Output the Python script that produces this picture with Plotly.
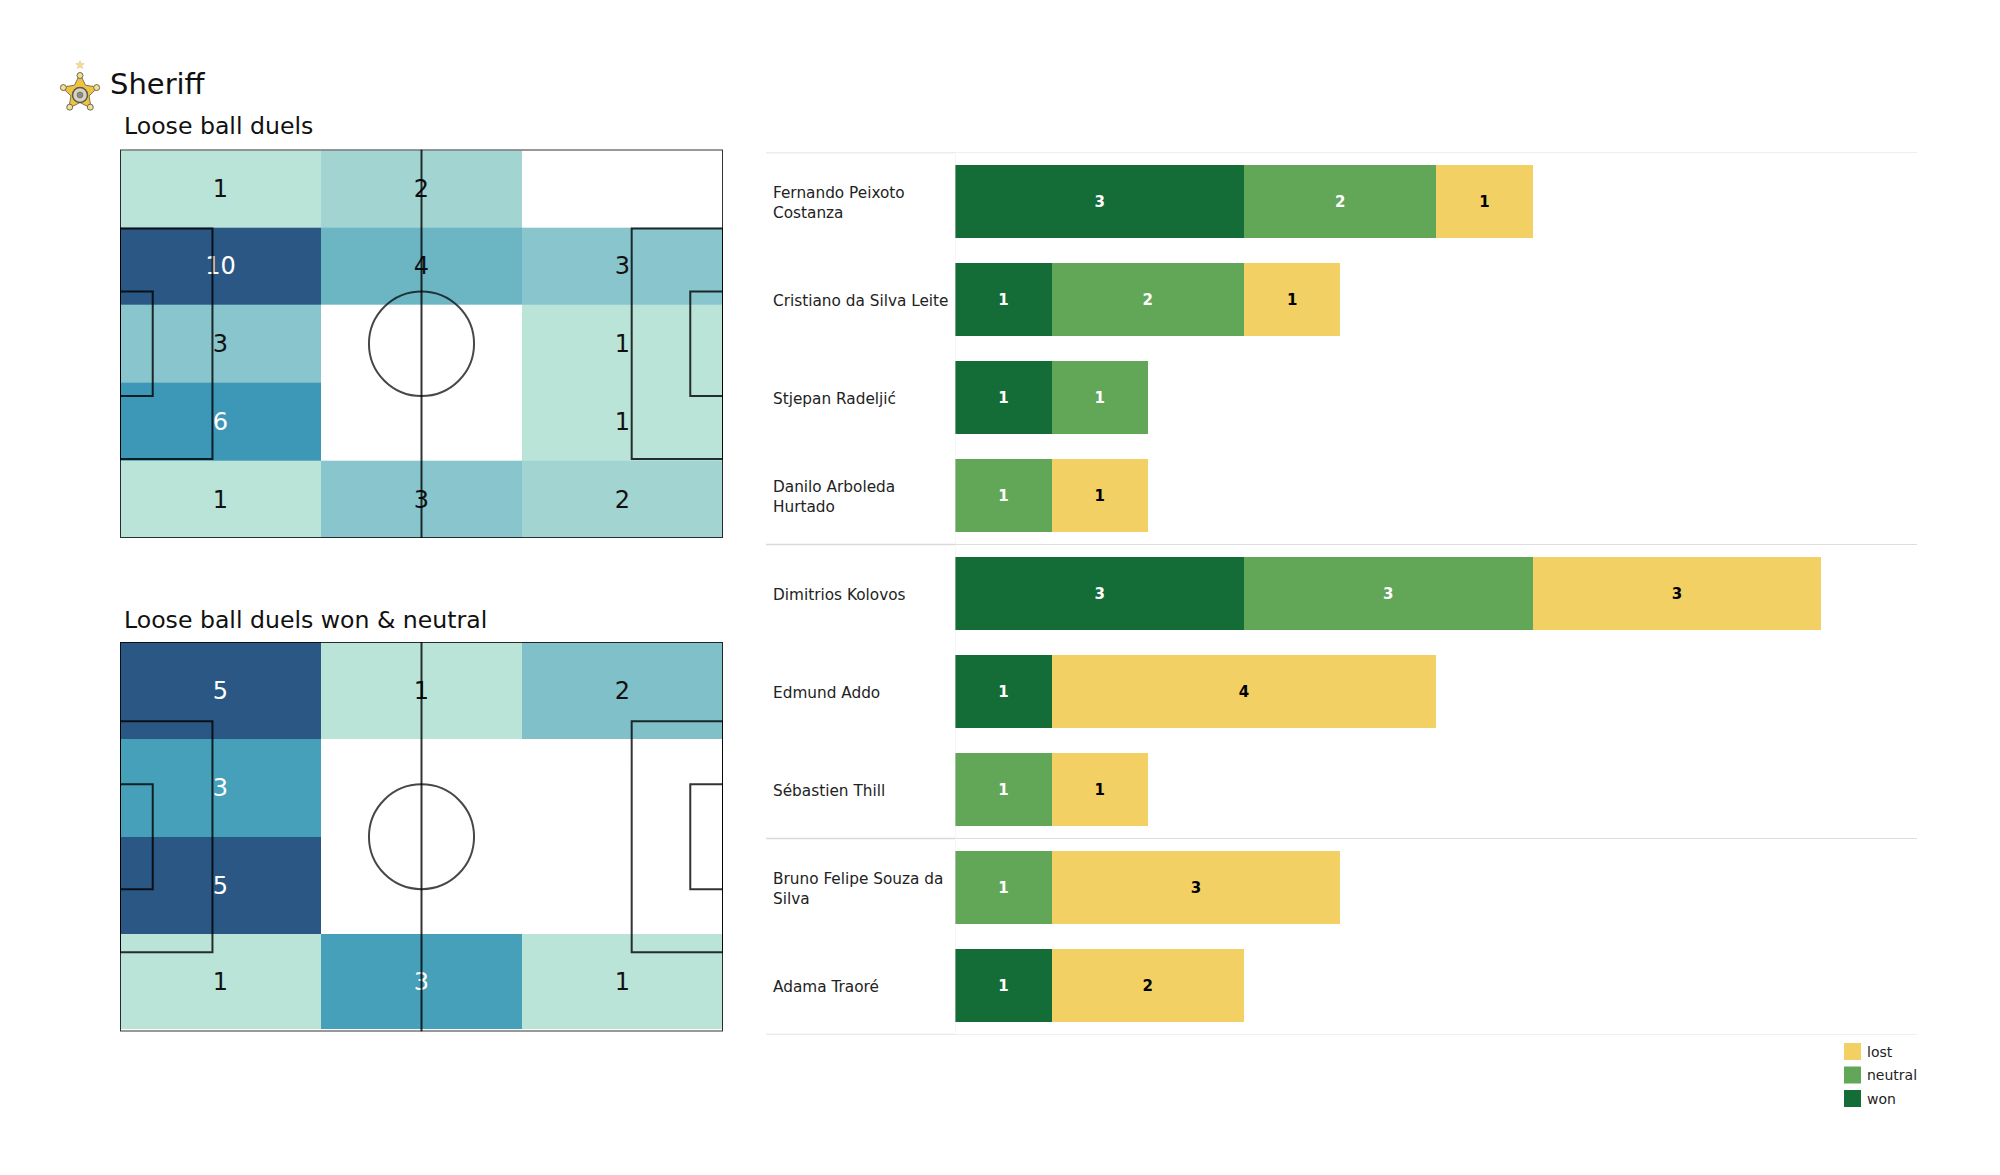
import math
import plotly.graph_objects as go

W, H = 2000, 1175

# ---- data ----
pitch_x_edges = [0, 35, 70, 105]
duels_rows = [[1, 2, 0], [10, 4, 3], [3, 0, 1], [6, 0, 1], [1, 3, 2]]
duels_y_edges = [0.2, 13.6, 27.2, 40.8, 54.4, 68]
won_neutral_rows = [[5, 1, 2], [3, 0, 0], [5, 0, 0], [1, 3, 1]]
won_neutral_y_edges = [0, 16.9, 34.0, 50.9, 67.5]

players = ["Fernando Peixoto<br>Costanza", "Cristiano da Silva Leite", "Stjepan Radeljić",
           "Danilo Arboleda<br>Hurtado", "Dimitrios Kolovos", "Edmund Addo", "Sébastien Thill",
           "Bruno Felipe Souza da<br>Silva", "Adama Traoré"]
won = [3, 1, 1, 0, 3, 1, 0, 0, 1]
neutral = [2, 2, 1, 1, 3, 0, 1, 1, 0]
lost = [1, 1, 0, 1, 3, 4, 1, 3, 2]
group_edges = [-0.5, 3.5, 6.5, 8.5]

# ---- styles ----
WON, NEUTRAL, LOST = "#146c36", "#62a758", "#f2d063"
FONT = "DejaVu Sans"
scale1 = [[0, "#ffffff"], [.1, "#bbe4d9"], [.2, "#a2d5d2"], [.3, "#88c5cd"], [.4, "#6cb6c4"],
          [.6, "#3d97b6"], [1, "#2b5784"]]
scale2 = [[0, "#ffffff"], [.2, "#bbe4d9"], [.4, "#7fc0c9"], [.6, "#46a0b9"], [1, "#2b5784"]]
PITCH_LINE = dict(color="rgba(0,0,0,0.8)", width=2)
CIRCLE_LINE = dict(color="rgba(0,0,0,0.72)", width=2)
LABEL_DROP = 0.42  # small downward nudge of the cell numbers, in pitch metres


def px(x):
    return x / W


def py(y):
    return 1 - y / H


fig = go.Figure()
shapes, annotations = [], []


def pitch(n, rows, y_edges, cmap, zmax, white_from, box):
    xa, ya = f"x{n}", f"y{n}"
    fig.add_trace(go.Heatmap(x=pitch_x_edges, y=y_edges, z=rows, colorscale=cmap, zmin=0, zmax=zmax,
                             showscale=False, hoverinfo="skip", xaxis=xa, yaxis=ya))
    tx, ty, tt, tc = [], [], [], []
    for r, row in enumerate(rows):
        for c, v in enumerate(row):
            if v:
                tx.append((pitch_x_edges[c] + pitch_x_edges[c + 1]) / 2)
                ty.append((y_edges[r] + y_edges[r + 1]) / 2 + LABEL_DROP)
                tt.append(str(v))
                tc.append("#ffffff" if v >= white_from else "#111111")
    fig.add_trace(go.Scatter(x=tx, y=ty, text=tt, mode="text", textposition="middle center",
                             textfont=dict(family=FONT, size=24, color=tc), hoverinfo="skip",
                             showlegend=False, xaxis=xa, yaxis=ya))
    L = PITCH_LINE

    def rect(x0, y0, x1, y1):
        shapes.append(dict(type="rect", xref=xa, yref=ya, x0=x0, y0=y0, x1=x1, y1=y1, line=L, layer="above"))
    rect(0, 0, 105, 68)
    shapes.append(dict(type="line", xref=xa, yref=ya, x0=52.5, x1=52.5, y0=0, y1=68, line=L, layer="above"))
    shapes.append(dict(type="circle", xref=xa, yref=ya, x0=52.5 - 9.15, x1=52.5 + 9.15,
                       y0=34 - 9.15, y1=34 + 9.15, line=CIRCLE_LINE, layer="above"))
    rect(0, 13.84, 16.1, 54.16)
    rect(89.1, 13.84, 105, 54.16)
    rect(0, 24.84, 5.7, 43.16)
    rect(99.3, 24.84, 105, 43.16)
    return dict(visible=False, range=[0, 105], domain=[px(box[0]), px(box[1])], anchor=ya, fixedrange=True), \
        dict(visible=False, range=[68, 0], domain=[py(box[3]), py(box[2])], anchor=xa, fixedrange=True)


x1a, y1a = pitch(1, duels_rows, duels_y_edges, scale1, 10, 6, (120, 723, 149.5, 538))
x2a, y2a = pitch(2, won_neutral_rows, won_neutral_y_edges, scale2, 5, 3, (120, 723, 642, 1031.5))

# stacked bars
for name, vals, col, tcol in [("won", won, WON, "#ffffff"), ("neutral", neutral, NEUTRAL, "#ffffff"),
                              ("lost", lost, LOST, "#000000")]:
    fig.add_trace(go.Bar(y=players, x=vals, orientation="h", name=name, marker=dict(color=col, line=dict(width=0)),
                         text=[str(v) if v else "" for v in vals], textposition="inside",
                         insidetextanchor="middle", textangle=0, constraintext="none",
                         textfont=dict(family=FONT, size=15, color=tcol, weight=700),
                         hoverinfo="skip", showlegend=False, xaxis="x3", yaxis="y3"))

# player names
for p in players:
    annotations.append(dict(xref="paper", yref="y3", x=px(771), y=p, yshift=-1.5, text=p, showarrow=False, xanchor="left",
                            align="left", font=dict(family=FONT, size=15.3, color="#222222")))

# separators
for e in group_edges:
    shapes.append(dict(type="line", xref="paper", yref="y3", x0=px(766), x1=px(955), y0=e, y1=e,
                       line=dict(color="#d9d9d9", width=1.6), layer="below"))
    shapes.append(dict(type="line", xref="paper", yref="y3", x0=px(955), x1=px(1917), y0=e, y1=e,
                       line=dict(color="#dddddd", width=1.1), layer="below"))
shapes.append(dict(type="line", xref="x3", yref="y3", x0=0, x1=0, y0=-0.5, y1=8.5,
                   line=dict(color="#eeeeee", width=1), layer="below"))

# titles
for text, x, y, size in [("Sheriff", 107.5, 84, 29), ("Loose ball duels", 121.5, 125.5, 23.6),
                         ("Loose ball duels won &amp; neutral", 121.5, 620, 23.6)]:
    annotations.append(dict(xref="paper", yref="paper", x=px(x), y=py(y), text=text, showarrow=False,
                            xanchor="left", yanchor="middle", font=dict(family=FONT, size=size, color="#111111")))

# legend
for name, col, y in [("lost", LOST, 1051.5), ("neutral", NEUTRAL, 1075), ("won", WON, 1098.5)]:
    shapes.append(dict(type="rect", xref="paper", yref="paper", x0=px(1844), x1=px(1861), y0=py(y - 8.5), y1=py(y + 8.5),
                       fillcolor=col, line=dict(width=0)))
    annotations.append(dict(xref="paper", yref="paper", x=px(1864.5), y=py(y), text=name, showarrow=False, xanchor="left",
                            yanchor="middle", font=dict(family=FONT, size=14, color="#222222")))


# club badge
def star_path(cx, cy, r, inner, tips=5):
    pts = []
    for i in range(tips * 2):
        a = -math.pi / 2 + i * math.pi / tips
        rad = r if i % 2 == 0 else inner
        pts.append((px(cx + rad * math.cos(a)), py(cy + rad * math.sin(a))))
    return "M" + " L".join(f"{a:.5f},{b:.5f}" for a, b in pts) + " Z"


def dot(cx, cy, r, fill, line="#6f6a55", w=1):
    shapes.append(dict(type="circle", xref="paper", yref="paper", x0=px(cx - r), x1=px(cx + r),
                       y0=py(cy + r), y1=py(cy - r), fillcolor=fill, line=dict(color=line, width=w)))


shapes.append(dict(type="path", xref="paper", yref="paper", path=star_path(80, 93, 19, 9.5), fillcolor="#efc43c",
                   line=dict(color="#7a7360", width=1)))
for i in range(5):
    a = -math.pi / 2 + i * 2 * math.pi / 5
    dot(80 + 17.5 * math.cos(a), 93 + 17.5 * math.sin(a), 3, "#f4dd90")
dot(80, 95, 7.5, "#d6d2c4", "#5a5850", 1.5)
dot(80, 95, 3, "#8d8a80", "#5a5850", 0.5)
shapes.append(dict(type="path", xref="paper", yref="paper", path=star_path(80, 65, 4.5, 2.0), fillcolor="#f3dc8c",
                   line=dict(color="#d8c98f", width=0.5)))

fig.update_layout(
    width=W, height=H, margin=dict(l=0, r=0, t=0, b=0), paper_bgcolor="white", plot_bgcolor="white",
    barmode="stack", bargap=0.25, showlegend=False, shapes=shapes, annotations=annotations,
    xaxis=x1a, yaxis=y1a, xaxis2=x2a, yaxis2=y2a,
    xaxis3=dict(visible=False, range=[0, 10], domain=[px(955.4), px(1917.4)], anchor="y3", fixedrange=True),
    yaxis3=dict(visible=False, type="category", categoryorder="array", categoryarray=players,
                range=[8.5, -0.5], domain=[py(1034.5), py(152.5)], anchor="x3", fixedrange=True),
)
fig.write_html("out.html", config={"displayModeBar": False},
               post_script="document.body.style.margin='0';document.body.style.overflow='hidden';")
